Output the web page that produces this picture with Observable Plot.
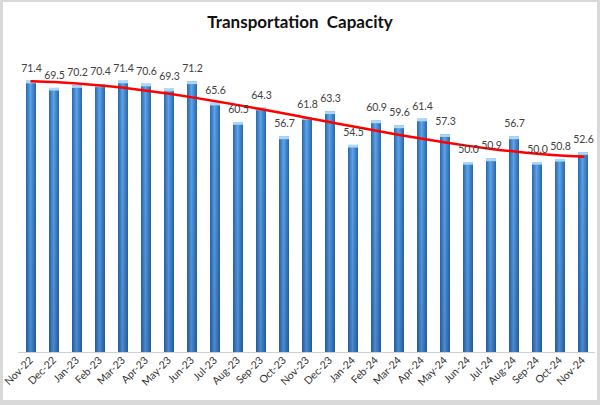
<!DOCTYPE html>
<html>
<head>
<meta charset="utf-8">
<script src="https://cdn.jsdelivr.net/npm/d3@7"></script>
<script src="https://cdn.jsdelivr.net/npm/@observablehq/plot@0.6"></script>
<style>
  html, body { margin: 0; padding: 0; background: #fff; }
  #wrap { position: relative; width: 600px; height: 405px; overflow: hidden; background: #fff; }
  #frame { position: absolute; left: 0; top: 0; width: 600px; height: 405px; box-sizing: border-box;
           border-left: 3px solid #d9d9d9; border-top: 2px solid #d9d9d9; border-right: 3px solid #d9d9d9; border-bottom: 5px solid #d9d9d9; pointer-events: none; }
  #title { height: 40px; line-height: 44px; text-align: center; font-family: Lato, "Open Sans", sans-serif; font-weight: bold; font-size: 17px; color: #111; white-space: pre; }
  #chart svg { display: block; }
</style>
</head>
<body>
<div id="wrap">
  <div id="title">Transportation  Capacity</div>
  <div id="chart"></div>
  <div id="frame"></div>
</div>
<script>
const months = ["Nov-22","Dec-22","Jan-23","Feb-23","Mar-23","Apr-23","May-23","Jun-23","Jul-23","Aug-23","Sep-23","Oct-23","Nov-23","Dec-23","Jan-24","Feb-24","Mar-24","Apr-24","May-24","Jun-24","Jul-24","Aug-24","Sep-24","Oct-24","Nov-24"];
const values = [71.4,69.5,70.2,70.4,71.4,70.6,69.3,71.2,65.6,60.5,64.3,56.7,61.8,63.3,54.5,60.9,59.6,61.4,57.3,50.0,50.9,56.7,50.0,50.8,52.6];

const data = months.map((m, i) => ({month: m, value: values[i], i}));

// Polynomial least-squares trendline computed from the data
function polyfit(xs, ys, order) {
  const n = order + 1;
  const A = Array.from({length: n}, () => new Array(n + 1).fill(0));
  for (let r = 0; r < n; r++) {
    for (let c = 0; c < n; c++) A[r][c] = d3.sum(xs, x => Math.pow(x, r + c));
    A[r][n] = d3.sum(xs, (x, k) => ys[k] * Math.pow(x, r));
  }
  for (let p = 0; p < n; p++) {
    let max = p;
    for (let r = p + 1; r < n; r++) if (Math.abs(A[r][p]) > Math.abs(A[max][p])) max = r;
    [A[p], A[max]] = [A[max], A[p]];
    for (let r = p + 1; r < n; r++) {
      const f = A[r][p] / A[p][p];
      for (let c = p; c <= n; c++) A[r][c] -= f * A[p][c];
    }
  }
  const coef = new Array(n).fill(0);
  for (let r = n - 1; r >= 0; r--) {
    let s = A[r][n];
    for (let c = r + 1; c < n; c++) s -= A[r][c] * coef[c];
    coef[r] = s / A[r][r];
  }
  return x => coef.reduce((acc, c, k) => acc + c * Math.pow(x, k), 0);
}
const idx = data.map(d => d.i);
const trendFn = polyfit(idx, values, 3);
const trend = data.map(d => ({month: d.month, value: trendFn(d.i)}));

function defs() {
  const ns = "http://www.w3.org/2000/svg";
  const g = document.createElementNS(ns, "defs");
  g.innerHTML = `
    <linearGradient id="barGrad" x1="0" x2="1" y1="0" y2="0">
      <stop offset="0%" stop-color="#2b67ac"/>
      <stop offset="45%" stop-color="#5ca4ea"/>
      <stop offset="100%" stop-color="#2a66aa"/>
    </linearGradient>
    <linearGradient id="shadeGrad" x1="0" x2="0" y1="0" y2="1">
      <stop offset="0%" stop-color="#00205a" stop-opacity="0"/>
      <stop offset="100%" stop-color="#00205a" stop-opacity="0.2"/>
    </linearGradient>`;
  return g;
}

const chart = Plot.plot({
  width: 600,
  height: 365,
  marginTop: 8,
  marginBottom: 53,
  marginLeft: 18,
  marginRight: 5,
  style: {fontFamily: "Lato, 'Open Sans', sans-serif", background: "transparent", overflow: "visible"},
  x: {type: "band", domain: months, paddingInner: 0.57, paddingOuter: 0.3, label: null},
  y: {domain: [0, 80], axis: null},
  marks: [
    defs,
    Plot.barY(data, {x: "month", y: "value", fill: "url(#barGrad)"}),
    Plot.barY(data, {x: "month", y: "value", fill: "url(#shadeGrad)"}),
    Plot.rect(data, {x: "month", y1: d => d.value - 0.7, y2: "value", fill: "#a9d8f8"}),
    Plot.ruleY([0], {stroke: "#d0d0d0", strokeWidth: 1}),
    Plot.line(trend, {x: "month", y: "value", stroke: "#ff0000", strokeWidth: 2.5, curve: "catmull-rom"}),
    Plot.text(data, {x: "month", y: "value", text: d => d.value.toFixed(1), dy: -13, fontSize: 10.5, letterSpacing: "-0.3px", fill: "#404040"}),
    Plot.axisX({tickRotate: -45, tickSize: 0, tickPadding: 6, fontSize: 10.5, fill: "#333", label: null})
  ]
});
document.getElementById("chart").appendChild(chart);
</script>
</body>
</html>
